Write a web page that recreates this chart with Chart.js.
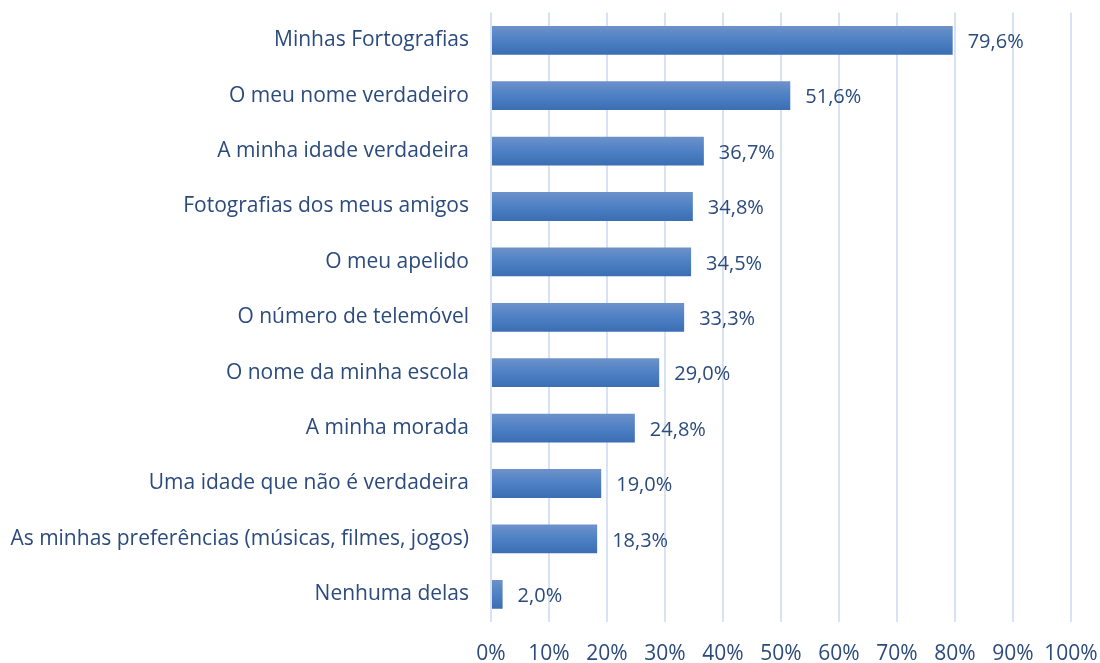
<!DOCTYPE html>
<html>
<head>
<meta charset="utf-8">
<script src="https://cdn.jsdelivr.net/npm/chart.js@4/dist/chart.umd.min.js"></script>
<style>
  html, body { margin: 0; padding: 0; background: #fff; }
  #wrap { width: 1100px; height: 663px; }
</style>
</head>
<body>
<div id="wrap"><canvas id="chart"></canvas></div>
<script>
const categories = [
  "Minhas Fortografias",
  "O meu nome verdadeiro",
  "A minha idade verdadeira",
  "Fotografias dos meus amigos",
  "O meu apelido",
  "O número de telemóvel",
  "O nome da minha escola",
  "A minha morada",
  "Uma idade que não é verdadeira",
  "As minhas preferências (músicas, filmes, jogos)",
  "Nenhuma delas"
];
const values = [79.6, 51.6, 36.7, 34.8, 34.5, 33.3, 29.0, 24.8, 19.0, 18.3, 2.0];
const tickValues = [0, 10, 20, 30, 40, 50, 60, 70, 80, 90, 100];

const textColor = "#2b4b7e";
const fontFamily = "'Open Sans', sans-serif";
const barPct = 0.52;

// gradient per bar, light on top, darker at bottom
const barFill = (context) => {
  const chart = context.chart;
  const yScale = chart.scales.y;
  if (!yScale || context.dataIndex === undefined) return "#4a7cc0";
  const yc = yScale.getPixelForValue(context.dataIndex);
  const h = (yScale.bottom - yScale.top) / categories.length * barPct;
  if (!isFinite(yc) || !isFinite(h) || h <= 0) return "#4a7cc0";
  const g = chart.ctx.createLinearGradient(0, yc - h / 2, 0, yc + h / 2);
  g.addColorStop(0, "#6d92ca");
  g.addColorStop(0.5, "#4d80c4");
  g.addColorStop(1, "#3a6db2");
  return g;
};

const valueLabels = {
  id: "valueLabels",
  afterDatasetsDraw(chart) {
    const { ctx } = chart;
    const meta = chart.getDatasetMeta(0);
    ctx.save();
    ctx.font = "20px " + fontFamily;
    ctx.fillStyle = textColor;
    ctx.textAlign = "left";
    ctx.textBaseline = "middle";
    meta.data.forEach((bar, i) => {
      const txt = values[i].toFixed(1).replace(".", ",") + "%";
      ctx.fillText(txt, bar.x + 15, bar.y + 2);
    });
    ctx.restore();
  }
};

new Chart(document.getElementById("chart"), {
  type: "bar",
  data: {
    labels: categories,
    datasets: [{
      data: values,
      backgroundColor: barFill,
      borderWidth: 0,
      categoryPercentage: 1,
      barPercentage: barPct
    }]
  },
  options: {
    indexAxis: "y",
    responsive: true,
    maintainAspectRatio: false,
    animation: false,
    layout: { padding: { top: 12.6, right: 29, bottom: 0, left: 0 } },
    plugins: {
      legend: { display: false },
      tooltip: { enabled: false }
    },
    scales: {
      x: {
        min: 0,
        max: 100,
        afterBuildTicks: (scale) => { scale.ticks = tickValues.map(v => ({ value: v })); },
        afterFit: (scale) => {
          scale.height = 41;
          scale.paddingLeft = 0;
          scale.paddingRight = 0;
        },
        grid: { color: "#d7e3f4", lineWidth: 2, drawTicks: false },
        border: { display: false },
        ticks: {
          padding: 19,
          minRotation: 0,
          maxRotation: 0,
          autoSkip: false,
          color: textColor,
          font: { family: fontFamily, size: 21 },
          callback: (v) => v + "%"
        }
      },
      y: {
        afterFit: (scale) => {
          scale.width = 491;
          scale.paddingTop = 0;
          scale.paddingBottom = 0;
        },
        grid: { display: false, drawTicks: false },
        border: { display: false },
        ticks: {
          padding: 22,
          color: textColor,
          font: { family: fontFamily, size: 21 }
        }
      }
    }
  },
  plugins: [valueLabels]
});
</script>
</body>
</html>
